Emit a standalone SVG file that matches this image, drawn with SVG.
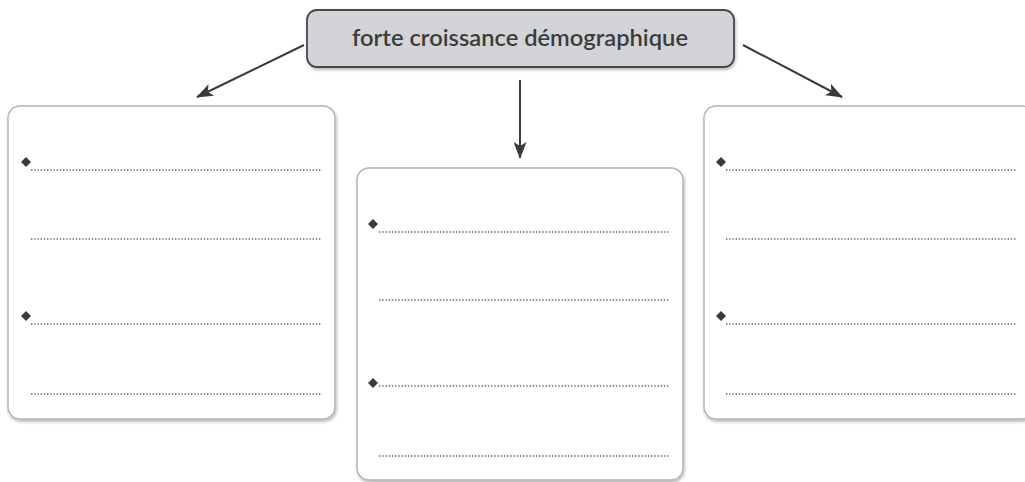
<svg xmlns="http://www.w3.org/2000/svg" width="1025" height="482" viewBox="0 0 1025 482">
<defs>
<filter id="sh" x="-5%" y="-5%" width="110%" height="115%">
<feDropShadow dx="1" dy="2" stdDeviation="1.5" flood-color="#000" flood-opacity="0.28"/>
</filter>
<marker id="ah" viewBox="0 0 17 13" refX="16" refY="6.5" markerWidth="17" markerHeight="13" markerUnits="userSpaceOnUse" orient="auto">
<path d="M0,0 L17,6.5 L0,13 L4,6.5 Z" fill="#3a3a3a"/>
</marker>
</defs>
<style>
.box{fill:#fff;stroke:#b4b4b4;stroke-width:1.5}
.top{fill:#d2d4d7;stroke:#4a4a4a;stroke-width:1.8}
.dot{stroke:#666;stroke-width:1.4;stroke-dasharray:1.4 1.8;fill:none}
.dia{fill:#3a3a3a}
.conn{stroke:#3a3a3a;stroke-width:2;fill:none}
.lbl{font-family:Lato,"Open Sans","Liberation Sans",sans-serif;font-size:23px;fill:#3c3c3c;font-weight:600}
</style>
<rect width="1025" height="482" fill="#fff"/>
<g id="connectors">
<line class="conn" x1="304" y1="45" x2="197" y2="97" marker-end="url(#ah)"/>
<line class="conn" x1="520" y1="80" x2="520" y2="158" marker-end="url(#ah)"/>
<line class="conn" x1="743" y1="45" x2="842" y2="97" marker-end="url(#ah)"/>
</g>
<g id="top">
<rect class="top" x="307" y="10" width="427" height="57" rx="10" filter="url(#sh)"/>
<text class="lbl" x="520" y="46" text-anchor="middle" textLength="336" lengthAdjust="spacingAndGlyphs">forte croissance démographique</text>
</g>
<g id="left">
<rect class="box" x="8" y="106" width="327" height="313" rx="12" filter="url(#sh)"/>
<path class="dia" d="M26,157 L31,162 L26,167 L21,162 Z"/>
<line class="dot" x1="31" y1="170" x2="322" y2="170"/>
<line class="dot" x1="31" y1="239" x2="322" y2="239"/>
<path class="dia" d="M26,311 L31,316 L26,321 L21,316 Z"/>
<line class="dot" x1="31" y1="324" x2="322" y2="324"/>
<line class="dot" x1="31" y1="394" x2="322" y2="394"/>
</g>
<g id="middle">
<rect class="box" x="357" y="168" width="326" height="312" rx="12" filter="url(#sh)"/>
<path class="dia" d="M373,219 L378,224 L373,229 L368,224 Z"/>
<line class="dot" x1="379" y1="232" x2="670" y2="232"/>
<line class="dot" x1="379" y1="300" x2="670" y2="300"/>
<path class="dia" d="M373,378 L378,383 L373,388 L368,383 Z"/>
<line class="dot" x1="379" y1="386" x2="670" y2="386"/>
<line class="dot" x1="379" y1="456" x2="670" y2="456"/>
</g>
<g id="right">
<rect class="box" x="704" y="106" width="330" height="313" rx="12" filter="url(#sh)"/>
<path class="dia" d="M721,157 L726,162 L721,167 L716,162 Z"/>
<line class="dot" x1="726" y1="170" x2="1017" y2="170"/>
<line class="dot" x1="726" y1="239" x2="1017" y2="239"/>
<path class="dia" d="M721,311 L726,316 L721,321 L716,316 Z"/>
<line class="dot" x1="726" y1="324" x2="1017" y2="324"/>
<line class="dot" x1="726" y1="394" x2="1017" y2="394"/>
</g>
</svg>
